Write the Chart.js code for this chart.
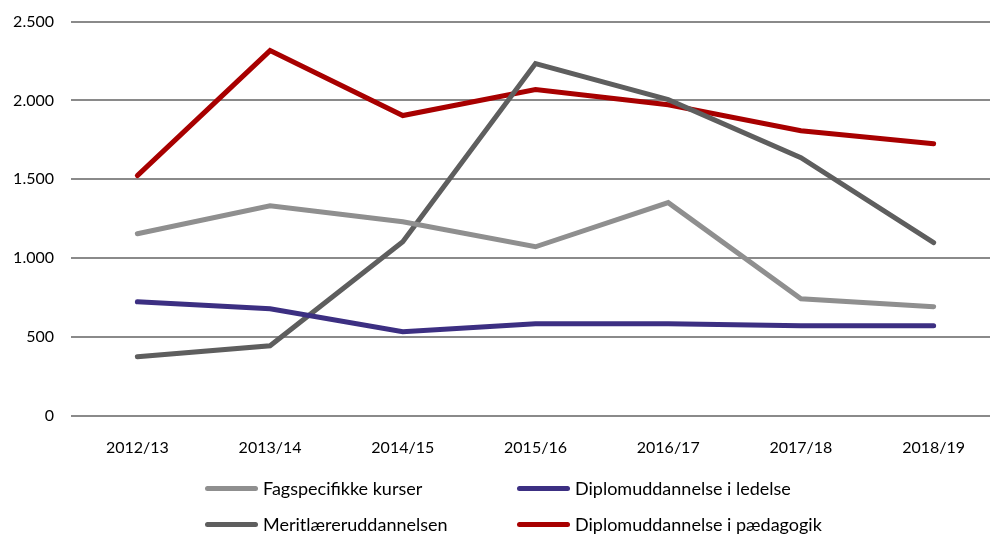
<!DOCTYPE html>
<html>
<head>
<meta charset="utf-8">
<script src="https://cdn.jsdelivr.net/npm/chart.js@4"></script>
<style>
  html, body { margin: 0; padding: 0; background: #fff; overflow: hidden; }
  #wrap { width: 990px; height: 535px; overflow: hidden; position: relative; }
  #box { width: 1000px; height: 476px; position: absolute; left: 0; top: -5px; }
  #legend { position: absolute; left: 0; top: 0; width: 990px; height: 535px; pointer-events: none;
            font-family: Lato, "Noto Sans", sans-serif; font-size: 18px; color: #000; }
  .item { position: absolute; display: flex; align-items: center; white-space: nowrap; }
  .swatch { width: 53px; height: 5px; border-radius: 3px; margin-right: 5px; }
</style>
</head>
<body>
<div id="wrap">
  <div id="box"><canvas id="chart"></canvas></div>
  <div id="legend"></div>
</div>
<script>
const years = ['2012/13', '2013/14', '2014/15', '2015/16', '2016/17', '2017/18', '2018/19'];
const fagspecifikke = [1155, 1332, 1231, 1072, 1352, 742, 692];
const diplomLedelse = [723, 679, 533, 584, 584, 571, 571];
const meritlaerer = [374, 444, 1104, 2234, 2005, 1637, 1098];
const diplomPaedagogik = [1523, 2316, 1904, 2069, 1973, 1808, 1726];

const series = [
  { label: 'Fagspecifikke kurser', data: fagspecifikke, color: '#8f8f8f' },
  { label: 'Diplomuddannelse i ledelse', data: diplomLedelse, color: '#3c2f82' },
  { label: 'Meritlæreruddannelsen', data: meritlaerer, color: '#5e5e5e' },
  { label: 'Diplomuddannelse i pædagogik', data: diplomPaedagogik, color: '#a80000' }
];

const ctx = document.getElementById('chart').getContext('2d');
const chart = new Chart(ctx, {
  type: 'line',
  data: {
    labels: years,
    datasets: series.map(s => ({
      label: s.label,
      data: s.data,
      borderColor: s.color,
      backgroundColor: s.color,
      borderWidth: 5,
      pointRadius: 0,
      tension: 0,
      borderCapStyle: 'round',
      borderJoinStyle: 'miter'
    }))
  },
  options: {
    responsive: true,
    maintainAspectRatio: false,
    animation: false,
    layout: { padding: 0 },
    plugins: {
      legend: { display: false },
      tooltip: { enabled: false }
    },
    scales: {
      x: {
        offset: true,
        grid: { display: false },
        border: { display: false },
        ticks: {
          color: '#000',
          padding: 14,
          font: { family: 'Lato', size: 16 }
        }
      },
      y: {
        min: 0,
        max: 2500,
        afterFit: (scale) => { scale.width = 71; },
        ticks: {
          stepSize: 500,
          color: '#000',
          padding: 17,
          font: { family: 'Lato', size: 16 },
          callback: (v) => v.toLocaleString('da-DK')
        },
        grid: { color: '#8a8a8a', lineWidth: 2, drawTicks: false },
        border: { display: false }
      }
    }
  }
});

// legend in two columns, built from the series
const legend = document.getElementById('legend');
const cols = [205, 517];
const rows = [488, 524];
series.forEach((s, i) => {
  const el = document.createElement('div');
  el.className = 'item';
  el.style.left = cols[i % 2] + 'px';
  el.style.top = (rows[Math.floor(i / 2)] - 11) + 'px';
  el.style.height = '22px';
  el.innerHTML = '<span class="swatch" style="background:' + s.color + '"></span><span>' + s.label + '</span>';
  legend.appendChild(el);
});
</script>
</body>
</html>
